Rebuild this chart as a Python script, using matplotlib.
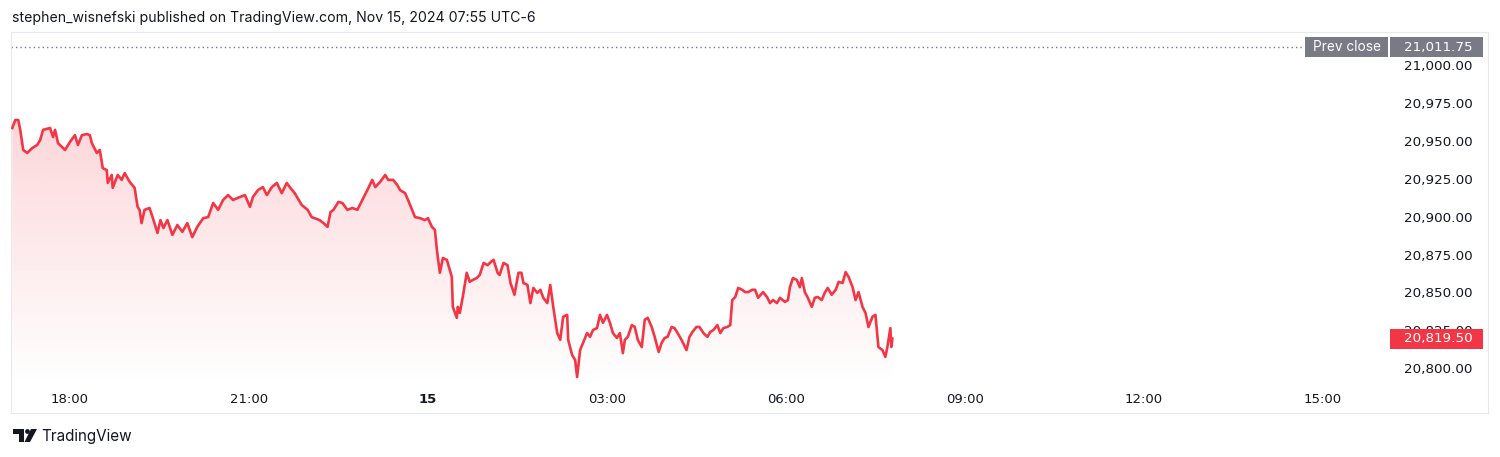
import numpy as np
import matplotlib
matplotlib.use("Agg")
import matplotlib.pyplot as plt
from matplotlib.colors import to_rgb
from matplotlib.patches import Rectangle, Circle, Polygon

# ── 1. DATA ───────────────────────────────────────────────────────────────────
# minutes after the 17:00 session open (Nov 14, UTC-6) and the traded price
minutes = [
    2, 5, 8, 10, 13, 17, 22, 27, 30, 33, 40, 43, 45, 48, 55, 60, 65, 68, 72, 77,
    80, 82, 87, 90, 93, 97, 98, 102, 103, 108, 112, 115, 120, 125, 128, 130, 132, 135, 140, 144,
    148, 151, 154, 158, 163, 168, 173, 178, 183, 188, 194, 199, 204, 209, 214, 219, 224, 231, 236, 241,
    244, 249, 254, 258, 263, 268, 273, 278, 281, 286, 293, 299, 303, 306, 311, 315, 319, 322, 325, 330,
    334, 339, 344, 349, 354, 359, 364, 367, 372, 377, 380, 385, 389, 392, 397, 400, 407, 412, 417, 420,
    424, 427, 429, 430, 432, 435, 439, 442, 444, 445, 449, 450, 452, 455, 459, 462, 465, 469, 472, 476,
    480, 483, 486, 490, 492, 496, 500, 503, 507, 511, 514, 516, 520, 523, 526, 530, 533, 536, 540, 543,
    546, 550, 553, 556, 560, 561, 565, 568, 570, 573, 576, 580, 583, 586, 590, 593, 596, 600, 603, 606,
    610, 613, 616, 618, 621, 625, 628, 631, 635, 638, 641, 645, 648, 652, 655, 658, 661, 665, 668, 671,
    675, 680, 683, 686, 690, 693, 697, 701, 704, 707, 711, 714, 717, 721, 724, 726, 729, 732, 736, 739,
    742, 746, 749, 752, 757, 761, 764, 767, 771, 774, 779, 782, 784, 787, 791, 794, 796, 799, 802, 806,
    809, 812, 816, 819, 822, 826, 830, 833, 837, 840, 843, 847, 850, 853, 857, 860, 863, 867, 870, 873,
    877, 880, 882, 885, 886, 887,
]
prices = [
    20958.50, 20963.75, 20963.75, 20957.25, 20944.00, 20942.00, 20945.25, 20947.25, 20950.50, 20957.25,
    20958.50, 20952.50, 20957.25, 20948.50, 20944.00, 20949.25, 20953.75, 20947.25, 20953.75, 20954.50,
    20953.75, 20948.50, 20942.00, 20944.00, 20932.00, 20930.75, 20922.25, 20927.50, 20919.00, 20927.50,
    20924.25, 20928.75, 20923.00, 20919.00, 20906.50, 20904.50, 20895.75, 20904.50, 20905.75, 20897.75,
    20889.25, 20897.75, 20892.50, 20897.75, 20888.00, 20894.50, 20890.00, 20895.75, 20886.50, 20893.25,
    20899.00, 20899.75, 20909.00, 20904.50, 20911.00, 20914.25, 20911.00, 20913.00, 20914.25, 20906.50,
    20913.00, 20917.50, 20919.50, 20914.25, 20919.50, 20922.25, 20915.50, 20922.25, 20919.50, 20915.50,
    20907.75, 20904.50, 20899.75, 20899.00, 20897.75, 20895.75, 20893.25, 20903.00, 20904.50, 20909.75,
    20909.00, 20904.50, 20905.75, 20904.50, 20911.00, 20917.50, 20924.25, 20919.50, 20923.00, 20927.50,
    20924.25, 20924.25, 20921.00, 20917.50, 20915.50, 20911.00, 20899.75, 20899.00, 20897.75, 20899.00,
    20893.25, 20891.25, 20878.00, 20872.75, 20863.00, 20872.75, 20871.50, 20864.75, 20860.25, 20840.50,
    20833.25, 20840.50, 20836.50, 20847.00, 20863.00, 20857.00, 20858.25, 20859.50, 20861.50, 20869.50,
    20868.00, 20870.00, 20871.50, 20863.00, 20861.50, 20869.50, 20868.00, 20856.25, 20848.50, 20863.00,
    20863.00, 20856.25, 20855.00, 20843.00, 20853.00, 20849.75, 20851.75, 20846.50, 20843.00, 20855.00,
    20840.50, 20823.25, 20818.75, 20834.00, 20835.25, 20818.75, 20808.75, 20805.50, 20794.25, 20812.00,
    20816.75, 20823.25, 20820.75, 20825.25, 20826.50, 20835.25, 20830.00, 20835.25, 20830.00, 20823.25,
    20820.00, 20823.25, 20810.00, 20818.75, 20820.75, 20828.50, 20827.25, 20818.75, 20814.00, 20832.00,
    20833.25, 20827.25, 20820.75, 20810.75, 20816.75, 20820.00, 20820.75, 20827.25, 20826.50, 20823.25,
    20818.75, 20812.00, 20820.75, 20824.00, 20827.25, 20827.25, 20823.25, 20820.75, 20824.00, 20825.25,
    20828.50, 20823.25, 20826.50, 20827.25, 20828.50, 20845.00, 20847.00, 20853.00, 20851.75, 20850.25,
    20850.25, 20851.75, 20851.75, 20846.50, 20850.25, 20847.00, 20843.00, 20845.00, 20843.00, 20846.50,
    20843.75, 20845.00, 20853.50, 20859.50, 20858.25, 20853.50, 20859.50, 20850.25, 20846.50, 20840.50,
    20846.50, 20847.00, 20845.00, 20849.75, 20853.00, 20848.50, 20851.75, 20857.00, 20856.25, 20863.50,
    20860.25, 20853.50, 20845.00, 20850.25, 20840.50, 20836.50, 20827.25, 20834.00, 20835.25, 20814.00,
    20812.00, 20807.50, 20814.00, 20826.50, 20814.00, 20819.50,
]

PREV_CLOSE = 21011.75
LAST_PRICE = 20819.50
price_ticks = [20800, 20825, 20850, 20875, 20900, 20925, 20950, 20975, 21000]
time_ticks = [60, 240, 420, 600, 780, 960, 1140, 1320]
time_labels = ["18:00", "21:00", "15", "03:00", "06:00", "09:00", "12:00", "15:00"]
HEADER = "stephen_wisnefski published on TradingView.com, Nov 15, 2024 07:55 UTC-6"

# ── 2. STYLE ──────────────────────────────────────────────────────────────────
RED   = "#F23645"
GREY  = "#787B86"
TEXT  = "#131722"
FRAME = "#E6E9F0"
NUM_FONT = "DejaVu Sans"       # wide tabular digits, like the TV price scale
NUM_SIZE = 9.7
PANE_BOTTOM = 20789.0          # price at the lower edge of the price pane

plt.rcParams["font.family"] = ["Inter", "DejaVu Sans"]

W, H = 1500, 457
fig = plt.figure(figsize=(15, 4.57), dpi=100)


def px_box(left, top, right, bottom):
    return [left / W, 1 - bottom / H, (right - left) / W, (bottom - top) / H]


# ── 3. MAIN PANE ──────────────────────────────────────────────────────────────
ax = fig.add_axes(px_box(11, 32, 1488, 413))
x = np.array(minutes, dtype=float)
y = np.array(prices)

ax.plot(x, y, color=RED, lw=1.9, zorder=4, solid_joinstyle="round")

# gradient area under the line
poly = ax.fill_between(x, y, PANE_BOTTOM, color="none", lw=0)
rgba = np.zeros((256, 1, 4))
rgba[..., :3] = to_rgb(RED)
rgba[..., 3] = np.linspace(0.0, 0.2, 256)[:, None]
im = ax.imshow(rgba, aspect="auto", origin="lower", zorder=3,
               extent=[x.min(), x.max(), PANE_BOTTOM, y.max()])
im.set_clip_path(poly.get_paths()[0], transform=ax.transData)
poly.remove()

ax.set_xlim(0.7, 1486)
ax.set_ylim(20770.5, 21021.8)

# previous close dotted line + labels
ax.axhline(PREV_CLOSE, xmin=0.0, xmax=(1303 - 11) / 1477, color=GREY,
           lw=1.0, dashes=(1, 2.2), zorder=2)
trans = ax.get_yaxis_transform()
box_h = 20 * (21021.8 - 20770.5) / 381
ax.add_patch(Rectangle((0.8761, PREV_CLOSE - box_h / 2), 0.0562, box_h, transform=trans,
                       facecolor=GREY, edgecolor="none", zorder=6, clip_on=False))
ax.add_patch(Rectangle((0.9337, PREV_CLOSE - box_h / 2), 0.0630, box_h, transform=trans,
                       facecolor=GREY, edgecolor="none", zorder=6, clip_on=False))
ax.text(0.9042, PREV_CLOSE, "Prev close", transform=trans, ha="center", va="center",
        color="white", fontsize=9.8, zorder=7)
ax.text(0.9898, PREV_CLOSE, f"{PREV_CLOSE:,.2f}", transform=trans, ha="right", va="center",
        color="white", fontsize=NUM_SIZE, family=NUM_FONT, zorder=7)

# last price label
ax.add_patch(Rectangle((0.9337, LAST_PRICE - box_h / 2), 0.0630, box_h, transform=trans,
                       facecolor=RED, edgecolor="none", zorder=6, clip_on=False))
ax.text(0.9898, LAST_PRICE, f"{LAST_PRICE:,.2f}", transform=trans, ha="right", va="center",
        color="white", fontsize=NUM_SIZE, family=NUM_FONT, zorder=7)

# axes / ticks
ax.yaxis.tick_right()
ax.set_yticks(price_ticks)
ax.set_yticklabels([f"{v:,.2f}" for v in price_ticks], family=NUM_FONT)
ax.tick_params(axis="y", length=0, pad=-11, labelsize=NUM_SIZE, labelcolor=TEXT)
for lab in ax.get_yticklabels():
    lab.set_horizontalalignment("right")

ax.set_xticks(time_ticks)
ax.set_xticklabels(time_labels, family=NUM_FONT)
ax.tick_params(axis="x", length=0, pad=-14.5, labelsize=9.5, labelcolor=TEXT)
ax.get_xticklabels()[2].set_fontweight("bold")

for s in ax.spines.values():
    s.set_color(FRAME)
    s.set_linewidth(0.8)

# ── 4. HEADER & LOGO ──────────────────────────────────────────────────────────
deco = fig.add_axes([0, 0, 1, 1], zorder=-1)
deco.set_xlim(0, W)
deco.set_ylim(H, 0)
deco.axis("off")
deco.text(12, 18, HEADER, fontsize=10.15, color=TEXT, ha="left", va="center")

deco.add_patch(Rectangle((13, 429), 11, 4.5, color=TEXT, lw=0))
deco.add_patch(Rectangle((18.5, 429), 5, 13, color=TEXT, lw=0))
deco.add_patch(Circle((27.5, 431.5), 2.4, color=TEXT, lw=0))
deco.add_patch(Polygon([(31, 429), (37, 429), (30, 442), (24.5, 442)], closed=True, color=TEXT, lw=0))
deco.text(41, 437, "TradingView", fontsize=11, color=TEXT, ha="left", va="center")

fig.savefig("out.png", dpi=100)
